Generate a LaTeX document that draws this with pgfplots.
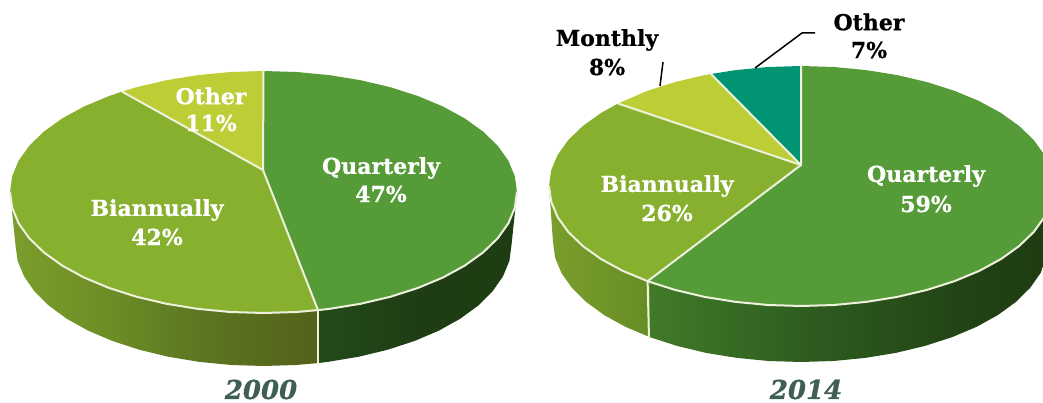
\documentclass[border=0pt]{standalone}
\usepackage{pgfplots}
\pgfplotsset{compat=1.18}
\usepackage{fontspec}
\setmainfont{DejaVu Serif}[BoldFeatures={FakeBold=0.7},BoldItalicFeatures={FakeBold=0.7}]
\definecolor{cQ}{HTML}{559B38}
\definecolor{cB}{HTML}{88B02F}
\definecolor{cO}{HTML}{BCCD35}
\definecolor{cT}{HTML}{019472}
\definecolor{rim}{HTML}{EEF2DC}
\definecolor{yr}{HTML}{3E5F52}
\pgfdeclarehorizontalshading{wa}{100bp}{rgb(0bp)=(0.48,0.62,0.17); rgb(25bp)=(0.48,0.62,0.17); rgb(42bp)=(0.42,0.55,0.15); rgb(55bp)=(0.36,0.47,0.13); rgb(75bp)=(0.33,0.38,0.10); rgb(100bp)=(0.33,0.38,0.10)}
\pgfdeclarehorizontalshading{wb}{100bp}{rgb(0bp)=(0.13,0.28,0.10); rgb(25bp)=(0.14,0.29,0.10); rgb(50bp)=(0.12,0.24,0.08); rgb(75bp)=(0.12,0.24,0.07); rgb(100bp)=(0.12,0.24,0.07)}
\pgfdeclarehorizontalshading{wc}{100bp}{rgb(0bp)=(0.48,0.62,0.17); rgb(25bp)=(0.48,0.62,0.17); rgb(75bp)=(0.40,0.55,0.15); rgb(100bp)=(0.40,0.55,0.15)}
\pgfdeclarehorizontalshading{wd}{100bp}{rgb(0bp)=(0.25,0.48,0.16); rgb(25bp)=(0.25,0.48,0.16); rgb(45bp)=(0.18,0.36,0.12); rgb(65bp)=(0.13,0.26,0.08); rgb(75bp)=(0.12,0.23,0.07); rgb(100bp)=(0.12,0.23,0.07)}
\newcommand{\lab}[3]{\node[font=\fontsize{22}{22}\selectfont\bfseries,text=#3,inner sep=0pt,anchor=center] at (axis cs:#1) {#2};}
\pgfplotsset{rimline/.style={rim,line width=2pt,line join=round,line cap=round}}
\begin{document}
\begin{tikzpicture}
\useasboundingbox (0,0) rectangle (1043pt,403pt);
\begin{axis}[width=1043pt,height=403pt,scale only axis,hide axis,xmin=0,xmax=1043,ymin=0,ymax=403,y dir=reverse,clip=true]
% walls 2000
\addplot[draw=none,shading=wa] coordinates {(10,192)(15.5,245)(17.6,260.8)(24,276.3)(34.4,291.3)(48.7,305.5)(66.7,318.7)(88.1,330.6)(112.5,341)(139.5,349.8)(168.6,356.8)(199.3,361.9)(231.1,365)(263.5,366)(295.9,365)(318,363.1)(318,250)(10,192)};
\addplot[draw=none,shading=wb] coordinates {(318,250)(318,363.1)(327.7,361.9)(358.4,356.8)(387.5,349.8)(414.5,341)(438.9,330.6)(460.3,318.7)(478.3,305.5)(492.6,291.3)(503,276.3)(509.4,260.8)(511.5,245)(517,192)(318,250)};
\addplot[rimline] coordinates {(318,308)(318,364)};
% top 2000
\addplot[fill=cQ,draw=none] coordinates {(263,170)(263.5,71)(296.6,72)(329.1,75.1)(360.5,80.2)(390.3,87.2)(417.8,96)(442.8,106.4)(464.6,118.3)(483,131.5)(497.7,145.7)(508.4,160.7)(514.8,176.2)(517,192)(514.8,207.8)(508.4,223.3)(497.7,238.3)(483,252.5)(464.6,265.7)(442.8,277.6)(417.8,288)(390.3,296.8)(360.5,303.8)(329.1,308.9)(318,310.1)(263,170)};
\addplot[fill=cB,draw=none] coordinates {(263,170)(318,310.1)(296.6,312)(263.5,313)(230.4,312)(197.9,308.9)(166.5,303.8)(136.7,296.8)(109.2,288)(84.2,277.6)(62.4,265.7)(44,252.5)(29.3,238.3)(18.6,223.3)(12.2,207.8)(10,192)(12.2,176.2)(18.6,160.7)(29.3,145.7)(44,131.5)(62.4,118.3)(84.2,106.4)(109.2,96)(122,91.6)(263,170)};
\addplot[fill=cO,draw=none] coordinates {(263,170)(122,91.6)(136.7,87.2)(166.5,80.2)(197.9,75.1)(230.4,72)(263.5,71)(263,170)};
\addplot[rimline] coordinates {(263.5,71)(263,170)(318,310.1)};
\addplot[rimline] coordinates {(122,91.6)(263,170)};
\addplot[rimline] coordinates {(10,192)(12.2,207.8)(18.6,223.3)(29.3,238.3)(44,252.5)(62.4,265.7)(84.2,277.6)(109.2,288)(136.7,296.8)(166.5,303.8)(197.9,308.9)(230.4,312)(263.5,313)(296.6,312)(318,310.1)(329.1,308.9)(360.5,303.8)(390.3,296.8)(417.8,288)(442.8,277.6)(464.6,265.7)(483,252.5)(497.7,238.3)(508.4,223.3)(514.8,207.8)(517,192)};
% walls 2014
\addplot[draw=none,shading=wc] coordinates {(549,186)(553,242)(555.1,257.7)(561.5,273.1)(571.9,287.9)(586.2,302)(604.2,315.1)(625.6,326.9)(650,337.2)(650,250)(549,186)};
\addplot[draw=none,shading=wd] coordinates {(650,250)(650,337.2)(677,345.9)(706.1,352.9)(736.8,357.9)(768.6,361)(801,362)(833.4,361)(865.2,357.9)(895.9,352.9)(925,345.9)(952,337.2)(976.4,326.9)(997.8,315.1)(1015.8,302)(1030.1,287.9)(1040.5,273.1)(1046.9,257.7)(1049,242)(1053,186)(650,250)};
\addplot[rimline] coordinates {(647.6,281)(649,338)};
% top 2014
\addplot[fill=cQ,draw=none] coordinates {(801,165)(801,66)(833.9,67)(866.2,70.1)(897.4,75.1)(927,82.1)(954.4,90.8)(979.2,101.1)(1000.9,112.9)(1019.2,126)(1033.8,140.1)(1044.4,154.9)(1050.8,170.3)(1053,186)(1050.8,201.7)(1044.4,217.1)(1033.8,231.9)(1019.2,246)(1000.9,259.1)(979.2,270.9)(954.4,281.2)(927,289.9)(897.4,296.9)(866.2,301.9)(833.9,305)(801,306)(768.1,305)(735.8,301.9)(704.6,296.9)(675,289.9)(647.6,281.2)(801,165)};
\addplot[fill=cB,draw=none] coordinates {(801,165)(647.6,281.2)(622.8,270.9)(601.1,259.1)(582.8,246)(568.2,231.9)(557.6,217.1)(551.2,201.7)(549,186)(551.2,170.3)(557.6,154.9)(568.2,140.1)(582.8,126)(601.1,112.9)(618,103.5)(801,165)};
\addplot[fill=cO,draw=none] coordinates {(801,165)(618,103.5)(647.6,90.8)(675,82.1)(704.6,75.1)(711,74)(801,165)};
\addplot[fill=cT,draw=none] coordinates {(801,165)(711,74)(735.8,70.1)(768.1,67)(801,66)(801,165)};
\addplot[rimline] coordinates {(801,66)(801,165)(647.6,281.2)};
\addplot[rimline] coordinates {(711,74)(801,165)};
\addplot[rimline] coordinates {(618,103.5)(801,165)};
\addplot[rimline] coordinates {(549,186)(551.2,201.7)(557.6,217.1)(568.2,231.9)(582.8,246)(601.1,259.1)(622.8,270.9)(647.6,281.2)(675,289.9)(704.6,296.9)(735.8,301.9)(768.1,305)(801,306)(833.9,305)(866.2,301.9)(897.4,296.9)(927,289.9)(954.4,281.2)(979.2,270.9)(1000.9,259.1)(1019.2,246)(1033.8,231.9)(1044.4,217.1)(1050.8,201.7)(1053,186)};
% leaders
\addplot[black,line width=1.5pt] coordinates {(815,33)(802,33)(755,68)};
\addplot[black,line width=1.5pt] coordinates {(663,62)(660,86)};
% labels
\lab{381,168}{Quarterly}{white}
\lab{381,194}{47\%}{white}
\lab{157,210}{Biannually}{white}
\lab{157,237}{42\%}{white}
\lab{211,96}{Other}{white}
\lab{211,123}{11\%}{white}
\lab{926,176}{Quarterly}{white}
\lab{926,204}{59\%}{white}
\lab{667,186}{Biannually}{white}
\lab{667,213}{26\%}{white}
\lab{607,40}{Monthly}{black}
\lab{607,67}{8\%}{black}
\lab{869,22}{Other}{black}
\lab{869,50}{7\%}{black}
\node[font=\fontsize{26}{26}\selectfont\bfseries\itshape,text=yr,inner sep=0pt] at (axis cs:261,389.5) {2000};
\node[font=\fontsize{26}{26}\selectfont\bfseries\itshape,text=yr,inner sep=0pt] at (axis cs:806,389.5) {2014};
\end{axis}
\end{tikzpicture}
\end{document}
